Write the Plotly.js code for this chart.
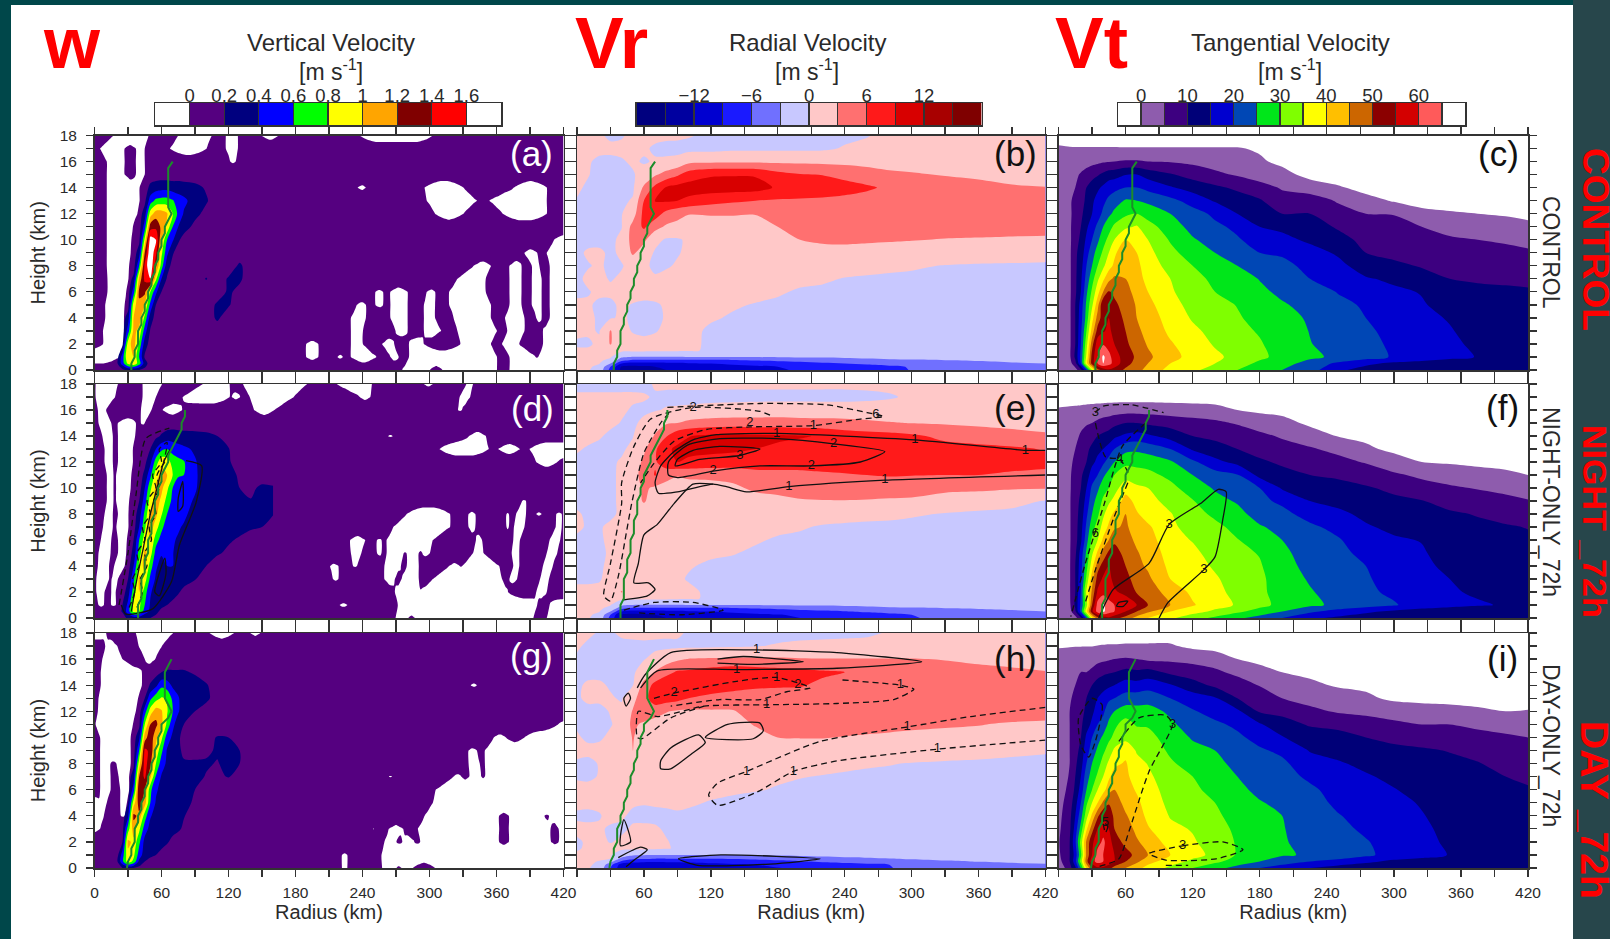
<!DOCTYPE html>
<html><head><meta charset="utf-8">
<script src="https://cdn.plot.ly/plotly-3.0.1.min.js"></script>
<style>html,body{margin:0;padding:0;background:#00474a;overflow:hidden}</style>
</head><body><div id="chart" style="width:1610px;height:939px"></div>
<script>
// ---------- axis ticks and colour bars ----------
const radiusLabelled=[0,60,120,180,240,300,360,420];
const radiusUnlabelled=[30,90,150,210,270,330,390];
const heightLabelled=[0,2,4,6,8,10,12,14,16,18];
const heightUnlabelled=[1,3,5,7,9,11,13,15,17];
const wColors=['#ffffff','#550080','#00007f','#0000ff','#00ff00','#ffff00','#ffa500','#800000','#ff0000','#ffffff'];
const wEdges=[-0.2,0,0.2,0.4,0.6,0.8,1,1.2,1.4,1.6,1.8];
const wBarTicks=[0,0.2,0.4,0.6,0.8,1,1.2,1.4,1.6];
const wBarLabels=['0','0.2','0.4','0.6','0.8','1','1.2','1.4','1.6'];
const vrColors=['#00007f','#0000a0','#0000d0','#1a1aff','#7070ff','#c8c8ff','#ffc8c8','#ff7070','#ff1a1a','#d80000','#a80000','#7f0000'];
const vrEdges=[-18,-15,-12,-9,-6,-3,0,3,6,9,12,15,18];
const vrBarTicks=[-12,-6,0,6,12];
const vrBarLabels=['\u221212','\u22126','0','6','12'];
const vtColors=['#ffffff','#8e5cad','#3d0080','#000078','#0000cf','#0047b5','#00e61a','#7fff00','#ffff00','#ffbf00','#cc6600','#8b0000','#d40000','#ff5a5a','#ffffff'];
const vtEdges=[-5,0,5,10,15,20,25,30,35,40,45,50,55,60,65,70];
const vtBarTicks=[0,10,20,30,40,50,60];
const vtBarLabels=['0','10','20','30','40','50','60'];

// ---------- w: radius intervals (km) where w<0, one list per height 0..18 km ----------
const wNegControl=[
[276,300,312,360,372,420],
[0,22,190,200,218,222,230,252,265,272,282,360,372,395,398,420],
[8,26,190,200,230,240,258,268,282,295,328,355,365,380,402,420],
[8,26,230,240,270,280,295,310,325,360,370,385,402,420],
[10,26,230,243,265,280,295,305,322,355,368,385,396,400,408,420],
[10,27,235,243,252,258,265,280,295,305,318,355,372,382,392,400,408,420],
[12,28,252,258,265,280,298,305,318,350,372,382,392,400,408,420],
[12,30,325,350,372,382,392,400,408,420],
[11,31,340,355,372,382,392,398,408,420],
[11,32,385,396,405,420],
[11,33,412,420],
[11,34],
[11,38,305,330,366,405],
[11,40,298,342,354,405],
[11,40,236,243,296,330,376,405],
[11,27,37,45],
[11,27,37,45,122,126],
[5,27,37,45,68,100,118,128],
[17,48,75,105,118,128,150,165,238,303]];
const wNegNight=[
[270,281,287,393,405,420],
[4,8,15,19,220,226,272,396,408,420],
[2,9,15,19,269,290,292,370,396,405],
[2,13,16,21,214,218,260,269,275,290,303,365,372,378,399,407],
[3,13,18,27,211,218,232,235,260,274,280,290,318,327,330,362,375,380,402,410],
[4,14,21,28,230,239,253,257,262,277,280,290,294,300,339,348,374,380,405,414],
[6,15,21,29,229,242,253,257,262,303,342,347,375,381,408,417],
[8,16,20,30,268,318,335,341,369,371,376,385,413,418],
[9,16,21,30,280,318,335,341,369,371,378,386,396,400,414,418],
[11,17,20,31,383,386],
[11,17,20,32],
[11,17,20,33],
[9,16,21,34,396,414],
[9,16,21,34,309,353,362,381,390,420],
[7,16,21,36,263,267,336,350],
[4,15,21,37,42,45],
[3,10,42,51,61,78,143,161,326,329],
[1,18,43,55,79,121,123,130,139,178,238,247,327,336],
[1,21,43,60,97,121,133,190,217,248,295,303,333,339]];
const wNegDay=[
[222,226,258,270,275,285,305,420],
[222,226,257,420],
[260,270,276,286,292,362,371,409,416,420],
[0,5,249,250,264,276,290,362,371,408,416,420],
[0,8,24,27,296,362,371,403,407,420],
[0,4,6,11,23,29,303,420],
[5,14,23,31,306,420],
[5,14,22,31,264,266,322,328,336,346,350,420],
[5,14,20,32,335,345,350,420],
[5,32,335,342,350,420],
[5,32,358,368,385,420],
[1,34,415,420],
[3,37],
[4,39],
[6,42,337,342],
[6,42],
[7,25,45,54],
[10,20,40,60],
[0,10,37,70,103,125,140,148]];

// ---------- w core (m/s) on a fine grid around the eyewall plume ----------
const wCoreX=[20,25,30,35,40,45,50,55,60,65,70,75,80,90,100,110,120,130,140,150,160];
const wCoreY=[0,0.5,1,2,3,4,5,6,7,8,9,10,11,12,13,14,15,16];
const wCoreControl=[
[.1,.15,.25,.25,.2,.15,.1],
[.15,.5,.85,.95,.7,.3,.1],
[.1,.5,1,1,.6,.17,.1],
[.1,.15,.9,1.1,.75,.3,.12,.1],
[.1,.1,.5,1.05,.95,.5,.18,.1],
[.1,.1,.3,1,1.1,.75,.3,.12,.1,.1,.1,.1,.1,.1,.1,.23,.1],
[.1,.1,.1,.9,1.15,1,.55,.2,.1,.1,.1,.1,.1,.1,.1,.23,.22,.1],
[.1,.1,.1,.5,1.25,1.25,.8,.45,.2,.1,.1,.1,.1,.1,.1,.1,.23,.15,.1],
[.1,.1,.1,.25,1.05,1.45,1.6,.85,.4,.18,.1,.1,.1,.1,.21,.1,.22,.23,.1],
[.1,.1,.1,.1,.6,1.45,1.8,1.25,.7,.28,.14,.1,.1,.1,.1,.1,.1,.23,.1],
[.1,.1,.1,.1,.3,1.2,1.8,1.45,.85,.45,.22,.12,.1],
[.1,.1,.1,.1,.15,.85,1.7,1.6,1,.6,.43,.23,.13,.1],
[.1,.1,.1,.1,.1,.5,1.3,1.35,1.15,.95,.6,.4,.28,.15,.1],
[.1,.1,.1,.1,.1,.3,.9,1.1,1.1,1.02,.8,.55,.38,.25,.15,.1],
[.1,.1,.1,.1,.1,.15,.5,.65,.68,.68,.62,.5,.45,.3,.22,.1],
[.1,.1,.1,.1,.1,.1,.25,.3,.33,.33,.3,.3,.28,.25,.18,.1],
[.1],[.1]];
const wCoreNight=[
[.1,.1,.25,.3,.3,.25,.2,.15,.1],
[.1,.22,.5,.85,.8,.5,.35,.25,.15,.1],
[.1,.2,.45,.85,.85,.6,.38,.3,.25,.2,.15,.1],
[.1,.1,.3,.7,1,.7,.42,.33,.3,.3,.28,.22,.15,.1],
[.1,.1,.2,.55,1.05,.9,.55,.37,.32,.4,.4,.3,.28,.21,.12,.1],
[.1,.1,.1,.4,.85,1.08,.7,.43,.33,.4,.4,.3,.28,.25,.2,.12,.1],
[.1,.1,.1,.25,.7,1.05,.9,.52,.42,.42,.41,.33,.3,.27,.25,.22,.17,.1],
[.1,.1,.1,.2,.6,.9,1.02,.68,.52,.45,.42,.38,.32,.28,.27,.25,.22,.18,.1],
[.1,.1,.1,.12,.4,.75,1.1,.9,.65,.5,.46,.42,.38,.3,.28,.27,.26,.25,.23,.2,.1],
[.1,.1,.1,.1,.3,.65,1.02,1.05,.82,.6,.5,.46,.44,.32,.29,.28,.27,.27,.25,.25,.21],
[.1,.1,.1,.1,.2,.5,.9,1.1,.95,.72,.55,.48,.46,.38,.3,.28,.27,.25,.21,.25,.25],
[.1,.1,.1,.1,.1,.4,.75,1.05,1.05,.85,.6,.5,.47,.42,.3,.28,.26,.2,.16,.24,.22],
[.1,.1,.1,.1,.1,.25,.55,.9,1.08,1,.8,.62,.6,.43,.3,.27,.25,.18,.1],
[.1,.1,.1,.1,.1,.15,.35,.7,.95,.9,.72,.66,.62,.42,.29,.26,.22,.12,.1],
[.1,.1,.1,.1,.1,.1,.2,.4,.55,.6,.52,.48,.44,.37,.27,.24,.21,.1],
[.1,.1,.1,.1,.1,.1,.1,.15,.22,.28,.3,.28,.27,.26,.24,.2,.12,.1],
[.1],[.1]];
const wCoreDay=[
[.1,.2,.25,.2,.15,.1],
[.15,.55,.9,.75,.35,.2,.12,.1],
[.1,.5,.95,.85,.5,.3,.25,.2,.15,.1],
[.1,.2,1.05,.95,.65,.33,.28,.27,.26,.22,.15,.1],
[.1,.12,.7,1.1,.85,.5,.33,.3,.28,.27,.26,.23,.17,.1],
[.1,.1,.35,1.25,1.15,.7,.42,.33,.3,.28,.27,.26,.21,.12,.1],
[.1,.1,.2,.9,1.3,1.1,.6,.38,.32,.3,.28,.27,.26,.17,.1],
[.1,.1,.1,.5,1.4,1.2,.65,.43,.34,.3,.29,.28,.26,.2,.12,.1],
[.1,.1,.1,.3,1.2,1.45,1.05,.58,.38,.34,.31,.29,.27,.25,.19,.17,.21,.12,.1],
[.1,.1,.1,.15,.9,1.5,1.25,.8,.5,.36,.32,.28,.23,.22,.22,.19,.25,.2,.1],
[.1,.1,.1,.1,.6,1.45,1.35,.95,.65,.38,.32,.25,.15,.15,.17,.22,.24,.2,.1],
[.1,.1,.1,.1,.35,1.1,1.35,1.05,.85,.5,.36,.23,.14,.1,.15,.21,.2,.12,.1],
[.1,.1,.1,.1,.15,.8,1.2,1.25,1.05,.75,.45,.3,.2,.1],
[.1,.1,.1,.1,.1,.5,.9,1.1,1.02,.82,.6,.42,.3,.2,.12,.1],
[.1,.1,.1,.1,.1,.2,.55,.72,.82,.78,.55,.42,.3,.27,.24,.12,.1],
[.1,.1,.1,.1,.1,.1,.22,.35,.55,.5,.36,.33,.3,.27,.22,.1],
[.1,.1,.1,.1,.1,.1,.1,.12,.2,.22,.22,.22,.22,.18,.1],
[.1]];

// ---------- radial velocity (m/s) ----------
const vrX=[0,10,20,30,40,50,60,70,80,90,100,120,140,160,180,200,220,240,260,280,300,330,360,390,420];
const vrY=[0,.25,.5,.75,1,1.5,2,3,4,5,6,7,8,9,10,11,12,13,14,15,16,17,18];
const vrControl=[
[.3,.2,-1,-7,-13,-13.5,-13,-12.5,-12,-11.5,-11,-10.5,-10,-9.5,-9.2,-8.8,-8.3,-7.8,-7.2,-6.6,-5.9,-5.2,-4.7,-4.2,-3.8],
[.3,.3,-.5,-6,-12.5,-13,-12.5,-12,-11.5,-11,-10.7,-10.2,-9.8,-9.5,-9,-8.5,-8,-7.5,-7,-6.5,-5.8,-5,-4.5,-4,-3.7],
[.3,.3,.1,-3,-9,-10,-10,-10,-9.8,-9.6,-9.3,-9,-8.5,-8,-7.5,-7,-6.3,-6,-5.5,-5,-4.5,-4,-3.6,-3.2,-3],
[.3,.3,.3,-.5,-5,-6.5,-6.5,-6.5,-6.5,-6.5,-6.5,-6.5,-6.3,-5.8,-5.4,-5,-4.8,-4.5,-4,-3.5,-3.3,-3,-2.8,-2.6,-2.3],
[.3,.3,.3,.2,-2.5,-3.1,-3.1,-3.1,-3.1,-3.1,-3,-3,-3,-2.9,-2.8,-2.7,-2.6,-2.4,-2.2,-2,-1.9,-1.8,-1.7,-1.6,-1.5],
[.2,.2,.5,.6,.6,.6,.6,.5,.5,.4,.3,-.3,-.6],
[-.2,-.2,.3,3.2,.5,.5,.6,.5,.5,.5,.4,-.3,-.6],
[.3,.2,-.1,3.2,.5,-.1,-.4,-.1,.3,.5,.5,-.3,-.5],
[.3,.3,-.2,-.2,.3,-.3,-.6,-.5,.2,.5,.5,.2,-.2,-.5],
[.2,.2,-.3,-.3,.3,-.1,-.5,-.3,.3,.5,.6,.5,.2,-.1,-.3,-.5],
[-.2,-.1,.3,.3,.5,.7,1,1,1,1,1,.8,.7,.5,.2,-.2,-.4,-.5],
[-.3,.3,.3,-.1,.2,.8,.8,.3,.8,.9,1,1,.9,.7,.5,.4,.3,-.1,-.3,-.5],
[-.3,-.1,.2,-.3,-.1,.5,.5,-.5,-.3,.3,.8,1,1.2,1.1,1.1,1,1,.9,.8,.6,.3,-.1,-.3,-.4,-.5],
[-.3,.2,.3,-.3,.3,3.5,1.5,-.3,-.5,-.2,.5,.8,1,1.2,1.5,2,2.3,2.3,2.2,2.1,1.9,1.7,1.6,1.5,1.3],
[-.3,-.4,-.5,-.5,.5,4.2,3.6,.8,-.3,-.3,.4,.6,.8,1.2,2,3,3.3,3.4,3.3,3.2,3.1,2.9,2.8,2.7,2.6],
[-.5,-.6,-.6,-.5,-.1,4,6.5,4,2.6,2.2,2,1.9,1.9,2.2,3,3.6,3.9,4,4,4,4,4,4,3.9,3.9],
[-.5,-.6,-.6,-.6,-.1,1.5,7,7.5,5,3.9,3.1,3.2,3.2,3.1,3.6,4,4.2,4.3,4.4],
[-.1,-.5,-.5,-.5,-.4,.2,6,9.2,9.4,9,8.4,7.2,6.5,6,5.7,5.6,5.5,5.3,5,4.8,4.7,4.7,4.7,4.7,4.6],
[.3,-.3,-.7,-.7,-.7,-.4,3.5,6.8,9.3,10,10.2,10.4,10.4,10.2,8.6,8,7.6,7,6.4,5.5,5,4.5,3.8,3.3,3.1],
[.3,.1,-.6,-.6,-.5,-.2,.8,2.6,4,5.5,7.5,8.7,8.8,8.7,7,6.2,5.9,5.2,4.4,3.6,3.3,2.8,2.5,2,1.7],
[.3,.2,-.4,-.5,-.2,.3,-.2,.2,.5,.8,2.2,2.4,2.5,2.5,2.5,2.4,2.3,2.2,2,1.8,1.6,1.4,1.2,1,.9],
[.5,.5,.5,.5,.5,.5,.3,-.3,-.7,-.8,-.8,-.8,-.5,-.5,-.5,-.5,-.4,.2,.5,.6],
[.5,.5,.3,-.4,-.2,.5,.5,.5,.5,.5,.2,-.5,-.7,-.7,-.7,-.7,-.7,-.5,-.1,.5]];
const vrNight=[
[.3,.2,-1,-7,-13,-13.5,-13,-12.5,-12,-11.5,-11,-10.5,-10,-9.6,-9.3,-9,-8.5,-8,-7.4,-6.8,-6.2,-5.4,-4.8,-4.3,-3.9],
[.3,.3,-.5,-6,-12.5,-13,-12.5,-12,-11.5,-11,-10.7,-10.2,-9.8,-9.5,-9.1,-8.7,-8.2,-7.6,-7.1,-6.6,-6,-5.1,-4.6,-4.1,-3.8],
[.3,.3,.1,-3,-9,-10,-10,-10,-9.8,-9.6,-9.3,-9,-8.5,-8,-7.5,-7,-6.5,-6.1,-5.6,-5.1,-4.6,-4.1,-3.7,-3.3,-3],
[.3,.3,.3,-.5,-5,-6.5,-6.5,-6.5,-6.5,-6.5,-6.5,-6.5,-6.3,-5.8,-5.4,-5,-4.8,-4.5,-4,-3.5,-3.3,-3,-2.8,-2.6,-2.3],
[.3,.3,.3,.1,-2.5,-3,-3.1,-3.1,-3.1,-3.1,-3,-3,-3,-2.9,-2.8,-2.7,-2.6,-2.4,-2.2,-2,-1.9,-1.8,-1.7,-1.6,-1.5],
[.3,.3,.3,.3,.6,.6,.6,.6,.5,.4,.3,-.3,-.6],
[.3,.3,.3,.5,3.2,.6,.6,.6,.5,.4,.3,-.3,-.6],
[-.2,-.2,-.1,.4,1,.5,.5,.5,.5,.2,-.1,-.4,-.5],
[-.3,-.3,-.2,.3,.5,.5,.5,.5,.5,.3,.1,-.2,-.5],
[-.3,-.3,-.3,.2,.5,.5,.5,.5,.5,.4,.4,.2,.1,-.3,-.5],
[-.3,-.3,-.2,.3,.5,.5,.5,.5,.5,.6,.6,.5,.4,.2,-.2,-.4,-.5],
[.3,-.2,-.1,.2,.5,.6,.8,.8,.8,.8,.8,.8,.7,.6,.4,.2,-.2,-.4,-.5],
[.2,-.3,-.4,-.2,.2,1,1.2,1,1,1,1,1,1,1.1,1.2,1.2,1,.9,.7,.5,.2,-.1,-.3,-.4,-.5],
[-.4,-.4,-.3,-.2,.2,1.5,3.3,1.5,1,1,1,1.1,1.5,2,2.4,2.8,2.9,2.9,2.8,2.6,2.5,1.2,.9,.5,-.1],
[-.5,-.5,-.4,-.2,.2,1.5,3.5,2.5,1.5,1.7,1.8,2,2.5,3.5,3.7,4,4.3,4.4,4.5,4.5,4.3,4,3.7,3.3,3.2],
[-.4,-.5,-.5,-.2,.2,2,4,6.2,4.5,3.2,3.6,3.7,3.9,5,5.2,5.3,5.6,5.8,6,6.2,6.1,6,6,5.6,5.2],
[-.4,-.5,-.5,-.3,.2,1.5,3.5,5.7,7.5,9,8.5,8,7.7,7.5,7.3,7.2,7.2,7.2,7.2,7.2,7.1,7,7,7,6.9],
[.2,-.2,-.5,-.5,-.3,.5,2.5,5.5,8.5,9.5,9.8,9.7,9.5,9,8.6,8.2,8,7.8,7.6,7.4,7.2,7,6.8,6.5,5.8],
[.5,.5,.2,-.4,-.5,-.1,1.5,3.2,5.8,8,8.9,9.5,9.7,9.5,9.4,9.2,8.8,7.7,7.3,7,6.5,5.3,4.6,3.9,3.4],
[.5,.5,.5,.4,-.1,-.4,.5,2,2.7,3,3.7,4.3,4.5,4.3,4.3,4.1,4,3.9,3.6,3.2,2.9,2.7,2.4,2.2,2],
[.5,.5,.5,.5,.3,-.2,-.4,-.2,.2,.3,.4,.7,1,1.2,1.3,1.3,1.2,1.2,1.1,1,1,1,.9,.8,.8],
[.3,.3,.3,.3,.3,.3,.2,-.2,-.6,-.6,-.6,-.6,-.7,-.7,-.7,-.7,-.7,-.7,-.5,-.2,.3,.5],
[-.5,-.5,-.5,-.5,-.5,-.5,-.5,.2,.5]];
const vrDay=[
[.3,.2,-1,-6,-11,-11.5,-11.5,-11,-10.5,-10.5,-10.5,-10,-9.8,-9.5,-9.1,-8.6,-8,-7.5,-6.9,-6.1,-5.5,-4.8,-4.3,-3.9,-3.5],
[.3,.3,-.5,-5,-10.5,-11,-11,-10.5,-10.2,-10,-10,-9.6,-9.3,-9,-8.5,-8,-7.4,-6.9,-6.5,-6,-5.2,-4.5,-4,-3.6,-3.3],
[.3,.3,-.1,-2,-6.5,-8,-8.5,-8.7,-8.7,-8.7,-8.5,-8.2,-8,-7.5,-6.8,-6.2,-5.6,-5.2,-4.8,-4.3,-3.8,-3.3,-2.9,-2.6,-2.4],
[.3,.3,.3,.1,-3.5,-5,-5.3,-5.6,-5.6,-5.6,-5.6,-5.6,-5.4,-5,-4.6,-4.2,-3.8,-3.4,-3.2,-2.9,-2.6,-2.2,-2,-1.8,-1.7],
[.3,.3,.3,.2,-1.5,-2.6,-2.8,-2.9,-2.9,-3,-3,-3,-3,-2.8,-2.6,-2.4,-2.2,-2,-1.9,-1.8,-1.6,-1.5],
[-.2,.3,.5,.5,.5,.5,.5,.4,.2,-.3,-.5],
[-.2,.2,.4,-.1,.3,.5,.5,.4,.1,-.3,-.5],
[.3,.3,.2,-.2,-.3,.2,.3,.2,-.2,-.4,-.5],
[-.2,-.3,-.1,.4,.2,-.3,-.4,-.4,-.4,-.2,-.3,-.5],
[.3,.3,.3,.3,.3,.2,.1,.2,.3,.3,.2,-.1,-.4,-.5],
[.5,.5,.5,.5,.5,.5,.5,.5,.5,.5,.5,.4,.3,.1,-.1,-.5],
[-.2,-.3,.1,.4,.6,.7,.7,.7,.7,.7,.7,.6,.5,.4,.2,.1,-.1,-.3,-.5],
[-.2,-.4,.1,.4,.6,.7,.7,.7,.7,.8,.8,.8,.8,.8,.8,.8,.7,.5,.3,.1,-.1,-.3,-.4,-.5],
[.4,.4,.4,.5,.8,3.2,.8,.8,.9,1,1,1,1,1.2,1.5,1.7,1.8,1.8,1.7,1.6,1.4,1.2,.9,.5,.2],
[.2,-.3,-.2,.3,.5,3.2,1.5,1,1,1,1,1,1.1,1.5,3,3.1,3.1,2.9,2.7,2.5,2.4,2.2,2.1,2,1.9],
[-.2,-.4,-.4,-.1,.5,3.8,2.2,1.5,1.3,1.3,1.3,1.3,1.4,3.3,3.8,3.9,4,4,3.9,3.8,3.5,3.3,3.1,2.7,2.4],
[-.2,-.4,-.4,.1,.5,3.2,6,4.5,3.2,2.6,2.6,2.7,2.8,4.3,4.4],
[-.2,.3,.3,.2,-.2,2,5,7.5,7.5,7,6,5,4.8,4.7],
[-.3,.3,.3,-.2,-.4,-.1,4,7,8.5,8.6,8.5,8,7,6.5,6.3,6.2,5.5,5,4.9,4.8,4.7,4.6,4.5,4.3,4],
[-.3,-.5,-.5,-.5,-.5,-.3,1,3.2,5,6.4,6.6,7.5,8.2,7.7,7.2,7,6.4,6,4.6,4.3,4.1,3.9,3.6,3.4,3.1],
[-.3,-.5,-.5,-.5,-.5,-.4,-.1,.6,1.6,2.5,3.1,3.3,3.4,3.4,3.4,3.2,3.1,3.1,3.1,3.1,3.1,2.9,2.6,2.3,2],
[.3,-.4,-.5,-.5,-.5,-.4,-.3,-.4,-.5,-.5,-.5,-.4,-.3,-.1,.2,.5,.7,.8],
[.5,.4,-.2,-.2,.3,.4,.4,.4,.4,.4,-.3,-.5,-.7,-.7,-.7,-.7,-.7,-.6,-.4,.2,.5]];

// ---------- tangential velocity (m/s) ----------
const vtX=[0,10,15,20,25,30,35,40,45,50,60,70,80,100,120,140,160,180,200,225,250,275,300,325,350,375,400,420];
const vtY=[0,.5,1,2,3,4,5,6,7,8,9,10,11,12,13,14,15,16,17,18];
const vtControl=[
[1,1,3,8,20,35,48,52,54,53,49,46,44,38,36,33,30,27,25,22,16,13,11,10.5,10.5,10.5,10.5,10.3],
[1,3,8,20,38,52,60,65,62,58,52,48,45,40,37,35,32,29,27,23,19,16,14,13,12,11,10.5,10.5],
[1,4,11,21,36,52,60,66,62,57,53,49,46,41.5,38.5,36,33.5,31,28.5,26,24,22,19.5,18,16.3,14.8,13.5,12.5],
[1,4,10,20,33,48,58,59.5,57.5,55,51,47.5,44.5,40.5,37.5,34.5,32,30.5,27.5,25.2,23,21,19.4,17.6,16,14,13,12.8],
[1,4,10,19,30,42,52,54.5,56,53.5,50,46,43.5,39,36,33.5,31.5,29.5,28,24.8,22.8,20.7,18.8,17,15.3,13.5,12.2,12],
[1,4,10,18,27,38,47,53,55,52.5,49,45,42.5,38,34.5,32.5,30.5,28.5,27,24.3,22,20,18.2,16,14.7,13,11.8,11.5],
[1,4,10,17,26,34,43,55,53,51,48,44.5,41.5,36.5,33.7,31.5,29.8,27.5,25.5,23.5,21,19.5,17.3,15.5,13,12.3,11.2,11],
[1,4,9,15,24,31,38,45,50.5,49,46.5,43.5,40,35.5,33,30,28.5,26,24,22,19.8,16.7,16,14.7,11.5,11,10.8,10.5],
[1,4,9,14,22,28,34,39,43.5,46,45,42,38.5,35,31.5,29,27,24.8,23,20,18.4,15.5,14,11.5,10,9.5,9.2,9],
[1,4,9,13,20,25,30,34,38,41,44,41,38,33,30,27.5,25,23,21,19,16.5,12.5,10.8,9.7,8.5,8,7.5,7],
[1,4,9,12,18,23,27,31,35,39,44,40,36.5,31.5,27.5,25,23,20,19.5,17,14.3,10,9,8.3,7,6.6,6,5.5],
[1,4,8,11,16,20,24,28,31.5,35,40,37,35,29.5,25.5,23,20.5,18,16.5,14,11.5,8.8,7.6,7,5.6,5,4.5,4],
[1,4,8,10,14,18,21,25,28,31,34,35.5,32,27.3,23.5,21,19,15,13.8,12,9.5,7.7,6.5,5,3.5,3,2,1],
[1,4,7,9,12,15,18,21,24,26,29,30,28,25,22,19,15,13,10,10,7,5,4.8,1.5,.5,0,-.5,-1],
[1,4.5,6,8,11,14,17,19,21,23,25.5,25,24,21.5,18,14.5,12.5,10.5,7,7.5,4.5,2,-.5,-2],
[1,3,5,7,10,12,14,16,18,18.5,20,20,18.5,15.5,13,11,9,7,4.5,2.5,.7,-2,-3],
[1,2,4,5.5,7,8.5,9.5,11,12.5,13,14.8,15,13,10.5,8,6,4.5,2.5,1.5,-1.5,-3],
[1,1.5,2,2.5,3,3.5,4,4.5,4.8,5,5.5,5.5,5,4.7,4,3,2,.6,-1,-3],
[1,.5,.4,.4,.4,.4,.4,.4,.4,.4,.3,.3,.3,.3,.3,.3,.3,-.5,-1.5,-3],
[-3]];
const vtNight=[
[1,1,3,9,22,38,48,52,54,52,48,43,40,36,32,29,26,23,20,16,14,12,11,10.5,10.5,10.5,10.5,10.3],
[1,3,9,22,38,54,62,66,62,60,55,50,46,40,37,34,31,28,25,21,18,16,14,13,12,11,10.5,10.5],
[1,4,11,21,33,50,62,66,62,60,57.5,55,50,45,40.5,37,34.5,31.5,28.5,26,24,22,20.5,17.5,16.5,15.5,14.6,14],
[1,4.5,10,20,36,46,56,58,57,55.5,54,49.5,47.7,43,39,36.4,33.5,31,28,25.4,23,21,19,17,15.5,14.4,13.8,13.2],
[1,4.5,10,19,31,43,52,56,56,54,52,47.5,46,40,38,35.7,32.5,31,27.5,24.5,22.5,20.5,18.2,16.5,15,13.8,13.2,12.6],
[1,4.5,10,18,28,38,48,52,55,53,50,46.3,44.3,38.8,37.3,34.3,32,30.5,26.5,23.8,22,20,17.4,16,14,13.2,12.7,12],
[1,4.5,9,17,26,34,41,47,51,52,48.5,45.5,43,38,36.2,33,31.3,29.7,26,23,21.5,18.5,16.6,15.5,13,12.5,12,11.4],
[1,4.5,8,14,23,31,35,41,45,49,47,44,42,37,34.7,32,30.2,28,25,22,20.5,17,15.6,14.8,12.2,11.8,11.4,10.8],
[1,4.5,8,13,21,28,32,37,41,44,46,42,40.8,36,33.2,31.3,28.5,25.5,23.5,21,18.5,15.5,14,13.5,11.5,11,10.5,9.8],
[1,4.5,8,12,19,25,29,34,38,41,45,40.5,38,35.3,31.9,29,26.5,23,21.5,18,16,14,12.5,12,10.7,9.7,8.3,7.5],
[1,4.5,8,11,17,23,27,31,34,36.5,42,38.5,36.5,33.5,30.3,26.5,24.5,21.2,19,15,13.7,12,11,10.2,8.2,7.2,6.3,5.3],
[1,4.5,7,10,15,21,24,28,30,33,38,36,35,31.5,27.5,24.5,22,20,14.5,12.5,11.5,10.5,9,7,5.7,4.7,3.7,2.7],
[1,4.5,6.5,9,13,17,20,24,27,30,33,32,31.5,28.7,25,22,20.3,13.5,12,10,9.3,8,5.8,4,2.7,1.7,1,0],
[1,4,6,8,10,14,16,19,22,25,28.7,28.5,28,25.7,21,16.5,13.5,11,9,8,6.5,4.6,2,0,-.5,-1,-1.5,-2],
[1,3.5,5,7,9,11,14,15,17,20,23.5,24,23,20,14.3,11.7,10,7.7,6.7,5.5,3.7,.8,-1,-2],
[1,3,4,5.5,7,8.5,10,11,12,14,16,17,16,13,10,9,8.4,6,4.5,2.5,-.2,-1,-2],
[1,2,3,4,4.5,5,6,7,7.5,8.5,10,10,9,8,7,6,4.5,3,1.7,-1,-2],
[.5,.8,1,1.2,1.5,1.7,2,2.2,2.5,2.8,3,3,3,2.5,2,1.5,0,-1,-1.5,-2],
[-2],[-2]];
const vtDay=[
[1,8,14,25,40,50,54,54,52,48,45,42,38,34,30,27,23,20,18,15,13,12,11,10.5,10.5,10.5,10.5,10.3],
[3,10,18,32,48,58,62,60,58,55,50,46,42,37,34,31,28,25,22,20,18,16,14,13,12,12,12,11],
[4,10,17,29,46,55,62,60,57,55,52,48.5,45,40,36.3,34,29.5,28,25.5,24.5,24,21,18,16.7,14.8,14,14,13],
[4.5,10,19,32,46,54,58,61,57.5,52.5,48.5,45.5,43.5,37.7,35.5,33,29.5,27.5,25.3,24,23,20.4,17.7,16,14.4,13.7,13.3,12.6],
[4,9,17,27,39,48,55,58,55,50,47,44,40.5,36,34.7,32,29,27,25.2,23.5,21.5,19,17.3,15.7,14,13.3,13,12],
[3.5,8.5,15,23,33,41,49,54,53,49,45.5,42.5,38.8,34.7,33.5,31,28,26,25,23,20.3,18.2,16.7,15.2,13.7,13,12.6,11.5],
[3,7.5,13,20,29,35,40,46,49.5,47.5,43.5,41,38,33.7,32.3,30,27.5,25.3,24,22,19,17.2,16,14.7,13,12.5,12,11],
[2,6.5,11,17,25,30,35,38,43,45,42,39.5,37,33,31,28.5,26,24,23,21,18,16.5,15.3,13,12.5,12,11.5,10.5],
[1.5,5.5,10,15,23,27,31,35,39,42,41,38,36,32,30,27,25,23,22,19,16.5,15.7,13.5,12.3,11.8,11.3,10,9],
[1.5,5,9,13,20,25,28,32,36,39,40.5,36.5,34.8,30.7,28,26,24,22,21,17,15.7,13.5,12.2,11.5,11,10.3,8.3,7.3],
[2,5,8,11.5,18,22,26,29,32,36,38.5,34.5,33,29.2,26.5,25,23,20.7,19,14.7,13,11.5,11,10.6,9.8,8.3,7,6.2],
[2.5,5,7.5,10,16,20,23,26,29,31,33.5,32.5,31.5,28,24.5,23,21,18.3,15.3,12.5,11.7,10,9,8,7.4,6.6,5.7,5],
[2.5,5,7,9,13,16,20,22,26,29,32,29.5,29.5,26,22.5,21,19,15.5,12,9.5,8.7,7,5.8,5,5,4,3.3,2.7],
[2,5,6.5,8.5,11,14,17,19,23,25,27.7,27,27,24,20.5,18,16,9.5,8.7,6,4.5,4,3.3,2.5,1.7,1,0,.3],
[1.5,4.5,6,8,10,11,15,17,19,20,22,22.5,23,20,17.5,15.5,10,7,5,3.5,2.5,1,-1,-1.5,-1.5,-2],
[1,3.5,5,7,9,10,12,13,14,15,17.5,17,18,15.5,12,9,7,4.8,2.5,1,-.5,-1,-2],
[1,2,3.5,5,5,6,8,9,9.5,10,11.5,11,12,9,7.5,5.8,4,2,0,-1,-2],
[.5,1,1.5,2,2.5,3,3.5,4,4.5,5,5.5,5,4,4,3.5,3,0,-1.5,-2],
[-.1,-.1,-.1,-.1,-.1,-.1,.1,.2,.3,.3,.5,.5,.5,.5,-1,-2],
[-2]];

// ---------- radius of maximum wind (green), one radius per half kilometre of height ----------
const rmwHeight=[0,.5,1,1.5,2,2.5,3,3.5,4,4.5,5,5.5,6,6.5,7,7.5,8,8.5,9,9.5,10,10.5,11,11.5,12,12.5,13,13.5,14,14.5,15,15.5,16];
const rmwControl=[33,33,36,36,39,39,39,42,42,45,45,48,48,51,51,54,54,57,57,60,60,63,63,66,69,66,66,66,66,66,66,66,70];
const rmwNight=[39,39,39,42,42,42,42,45,45,45,48,48,48,51,51,51,54,54,54,57,57,60,60,63,66,66,69,72,75,78,78,81,81];
const rmwDay=[29,30,33,33,36,36,36,39,39,42,42,45,45,48,48,51,51,54,54,57,57,60,60,66,69,66,63,63,63,63,63,66,69];

// ---------- difference contours: [dashed?, radii, heights] ----------
const diffD=[
[0,[82,96,91,76,69,52,28,24],[12.1,11.7,8.9,5.6,2.8,.7,.3,1]],
[0,[75,79,79,75,75],[9.2,10.5,8.6,8.2,9.2]],
[0,[54,63,64,58,54],[2,4.6,3.4,1.7,2]],
[1,[22,30,37,46,67],[1,5,9.4,13.8,14.6]],
[1,[31,36,34,40,38,45,43,50,47,55,52,60,58,65,62],[.8,2,3,4,5,6,7,8,9,10,11,12,13,13.5,12]],
[1,[38,43,41,47,45,51,49,55,53,58,56,63],[.8,2,3,4,5,6,7,8,9,10,11,12]],
[0,[33,38,44,50,56,62,68],[.5,3,5.5,8,10,12,13]]];
const diffE=[
[0,[420,276,190,152,134,122,90,73,70,75,87,104,125,179,303,402,420],[11,10.6,10.1,9.7,10.1,10.3,9.7,9.6,10.4,11.7,12.8,13.7,14.1,14.2,13.7,12.9,12.9]],
[0,[276,230,179,128,99,82,82,90,122,164,210,254,276],[12.8,13.4,13.8,13.8,13.3,12,11,10.8,11.3,11.7,11.7,12,12.8]],
[0,[164,128,104,90,88,110,146,164],[13,13.2,12.9,12.2,11.7,12.2,12.5,13]],
[0,[122,104,87,72,60,55,51,64,70,63,42],[10.3,10.3,8.8,7.2,6.4,4.2,2.7,2.7,2.2,1.7,1.4]],
[1,[81,164,224,260,275,254,212,155,116,87,69,57],[16.2,16.5,16.4,15.8,15.5,15.3,14.8,14.7,14.5,13.6,11.9,10.4]],
[1,[173,164,104,66,51,40,40,30,24,30,37,49,60,75,84],[15.6,15.9,16.2,15.3,13.2,10.4,8.8,4.2,1.7,1.3,3.2,8.8,12.7,15,15.9]],
[1,[42,69,104,131,93,54],[.6,1.2,1.2,.6,.25,.4]]];
const diffF=[
[0,[90,98,130,140,147,150,143,127,99,81,49,36],[0,1.2,3.7,4.7,7.6,9.7,9.9,8.8,7.2,4.2,2.2,0]],
[1,[33,40,65,94],[15.8,16.3,16.4,15.8]],
[1,[33,42,55,64],[15,12.4,12.2,10.9]],
[1,[78,57,41,24,11],[15,13.2,8.8,4.2,.1]],
[1,[62,49,33,24],[10.4,7.6,3.7,1.2]],
[0,[54,62,58,52,54],[1.2,1.3,.9,.9,1.2]]];
const diffH=[
[0,[54,61,84,161,233,309,233,143,72,57],[13.8,14.8,16.5,16.7,16.5,15.8,15.3,15.2,15.1,13.8]],
[0,[126,149,203,158,126],[16,16.2,15.8,15.6,15.7]],
[1,[238,290,302,284,233,170,114,72,55,54,58,84,114],[14.4,14,13.7,12.9,12.6,12.5,12.4,11.6,12,10,9.9,11.5,12.4]],
[1,[69,87,143,179,209,188,164,128,84],[13,13.4,14.3,14.6,13.8,13.5,12.9,12.9,12.4]],
[1,[420,353,296,218,152,126,118,126,161,194,233,323,420],[12.3,11.6,10.8,9.7,7.4,6.5,5.6,4.8,5.8,7.4,8.2,9.1,9.8]],
[0,[75,84,102,115,109,84,75,75],[7.6,7.6,8.7,9.6,10.2,9.2,8.2,7.6]],
[0,[115,135,164,167,158,115],[10,11,11.1,10.5,9.9,10]],
[0,[91,129,218,173,108,91],[.7,1,.7,.3,.2,.7]],
[0,[37,57,63,51,44],[.8,1.6,1.4,.6,.1]],
[0,[42,48,39,39,42],[3.7,2,1.7,2.5,3.7]],
[0,[42,46,48,44,42],[13,13.4,13,12.4,13]]];
const diffI=[
[1,[54,72,96,102,81,63,54,36],[9.7,11.5,11.7,11,7.4,2.8,.7,.1]],
[1,[30,39,33,27,20,18,30],[13,12.5,9.7,8.5,9.4,11.5,13]],
[1,[81,111,147,165,141,96,81],[1.1,1.7,2,1.4,.7,.6,1.1]],
[1,[96,116],[.2,.2]],
[1,[40,44,42,40],[3.5,3.2,2.7,3.5]]];
// contour labels: radius, height, label
const labelsE=[[179,14.2,'1'],[303,13.7,'1'],[402,12.9,'1'],[190,10.1,'1'],[276,10.6,'1'],[230,13.4,'2'],[210,11.7,'2'],[122,11.3,'2'],[146,12.5,'3'],[104,16.2,'2'],[155,15,'2'],[212,14.8,'1'],[268,15.6,'6']];
const labelsF=[[99,7.2,'3'],[130,3.7,'3'],[33,15.8,'3'],[55,12.2,'4'],[33,6.5,'6']];
const labelsH=[[161,16.7,'1'],[143,15.2,'1'],[296,10.8,'1'],[323,9.1,'1'],[152,7.4,'1'],[194,7.4,'1'],[170,12.5,'1'],[290,14,'1'],[179,14.6,'1'],[198,14,'2'],[87,13.4,'2']];
const labelsI=[[102,11,'3'],[111,1.7,'3'],[42,3.5,'5']];

// ---------- helpers ----------
const FONT='Liberation Sans, Arial, sans-serif', INK='#2a2a2a';
const scale=c=>c.map((col,i)=>[i/(c.length-1),col]);
const fill=(rows,n)=>rows.map(r=>{const o=r.slice();while(o.length<n)o.push(o[o.length-1]);return o;});
const maskX=[];for(let r=0;r<=420;r+=2)maskX.push(r);
const maskY=[...Array(19).keys()];
// signed distance (km) to the nearest edge of the w<0 intervals read for that height
const maskZ=iv=>iv.map(a=>maskX.map(x=>{let d=14,inside=false;
  for(let i=0;i<a.length;i+=2){if(x>=a[i]&&x<=a[i+1])inside=true;
    if(a[i]>0)d=Math.min(d,Math.abs(x-a[i]));if(a[i+1]<420)d=Math.min(d,Math.abs(x-a[i+1]));}
  return inside?-Math.max(d,.5):Math.max(d,.5);}));
const colX=[[94.5,563.5],[577,1045.5],[1058.5,1528]];
const rowY=[[135.5,370],[384,618],[633,868]];
const W=1610,H=939;
const traces=[],layout={width:W,height:H,margin:{l:0,r:0,t:0,b:0},paper_bgcolor:'#00474a',plot_bgcolor:'#ffffff',showlegend:false,
  font:{family:FONT,color:INK},annotations:[],
  shapes:[
   {type:'rect',xref:'paper',yref:'paper',x0:1573/W,x1:1,y0:0,y1:1,fillcolor:'#27464b',line:{width:0},layer:'below'},
   {type:'rect',xref:'paper',yref:'paper',x0:11/W,x1:1573/W,y0:0,y1:1-5/H,fillcolor:'#ffffff',line:{width:0},layer:'below'}]};
function contour(ax,x,y,z,start,end,size,colors){
  traces.push({type:'contour',xaxis:'x'+ax,yaxis:'y'+ax,x,y,z,autocontour:false,contours:{coloring:'fill',start,end,size,showlines:false},
    line:{width:0,smoothing:0.85},colorscale:scale(colors),showscale:false,hoverinfo:'skip'});
}
function line(ax,r,h,opt){
  traces.push({type:'scatter',mode:'lines',xaxis:'x'+ax,yaxis:'y'+ax,x:r,y:h,hoverinfo:'skip',cliponaxis:true,line:opt});
}
function overlay(ax,list,labels){
  list.forEach(l=>line(ax,l[1],l[2],{color:'#111',width:1.3,dash:l[0]?'6px,4px':'solid',shape:'spline',smoothing:.6}));
  if(labels)traces.push({type:'scatter',mode:'text',xaxis:'x'+ax,yaxis:'y'+ax,x:labels.map(l=>l[0]),y:labels.map(l=>l[1]),text:labels.map(l=>l[2]),
    textfont:{size:13,color:'#111',family:FONT},textposition:'middle center',hoverinfo:'skip'});
}
function axes(i,c,r){
  const common={showgrid:false,zeroline:false,showline:true,mirror:'allticks',linecolor:'#333',linewidth:1.5,ticks:'outside',ticklen:7,tickwidth:1.3,tickcolor:'#333',tickfont:{size:15.5,color:INK,family:FONT},tickmode:'array'};
  const mt=v=>({tickmode:'array',tickvals:v,ticks:'outside',ticklen:7,tickwidth:1.3,tickcolor:'#333',showgrid:false});
  const s=i===1?'':i;
  const xLab=c===0?radiusLabelled:radiusLabelled.slice(1), xMin=c===0?radiusUnlabelled:[0].concat(radiusUnlabelled);
  layout['xaxis'+s]=Object.assign({},common,{domain:[colX[c][0]/W,colX[c][1]/W],anchor:'y'+s,range:[0,420],tickvals:xLab,ticktext:xLab.map(String),minor:mt(xMin),showticklabels:r===2,ticklabelstandoff:3,
    title:r===2?{text:'Radius (km)',font:{size:20,color:INK,family:FONT},standoff:4}:undefined});
  layout['yaxis'+s]=Object.assign({},common,{domain:[1-rowY[r][1]/H,1-rowY[r][0]/H],anchor:'x'+s,range:[0,18],tickvals:heightLabelled,ticktext:heightLabelled.map(String),minor:mt(heightUnlabelled),showticklabels:c===0,ticklabelstandoff:6,
    title:c===0?{text:'Height (km)',font:{size:20,color:INK,family:FONT},standoff:8}:undefined});
}
function note(xp,yp,text,size,color,extra){
  layout.annotations.push(Object.assign({xref:'paper',yref:'paper',x:xp/W,y:1-yp/H,text,showarrow:false,xanchor:'center',yanchor:'middle',font:{size,color,family:FONT}},extra||{}));
}
function bar(i,x0,x1,edges,tickv,labels,colors){
  const s='x'+i,n=colors.length;
  traces.push({type:'heatmap',xaxis:s,yaxis:'y'+i,x:edges,y:[0,1],z:[colors.map((_,k)=>k)],zmin:0,zmax:n-1,colorscale:scale(colors),showscale:false,hoverinfo:'skip'});
  layout['xaxis'+i]={domain:[x0/W,x1/W],anchor:'y'+i,side:'top',range:[edges[0],edges[edges.length-1]],showgrid:false,zeroline:false,showline:true,mirror:true,linecolor:'#333',linewidth:1.5,
    ticks:'inside',ticklen:22,tickwidth:1.3,tickcolor:'#333',tickmode:'array',tickvals:tickv,ticktext:labels,ticklabelstandoff:-8,tickfont:{size:18.5,color:INK,family:FONT},tickangle:0,
    minor:{tickmode:'array',tickvals:edges.slice(1,-1).filter(e=>!tickv.includes(e)),ticks:'inside',ticklen:22,tickwidth:1.3,tickcolor:'#333',showgrid:false}};
  layout['yaxis'+i]={domain:[1-125/H,1-103/H],anchor:'x'+i,range:[0,1],showgrid:false,zeroline:false,showline:true,mirror:true,linecolor:'#333',linewidth:1.5,ticks:'',showticklabels:false};
}

// ---------- panels ----------
const wBelow=['rgba(255,255,255,0)','#00007f','#0000ff','#00ff00','#ffff00','#ffa500','#800000','#ff0000','#ffffff'];
[[wNegControl,wCoreControl,0],[wNegNight,wCoreNight,1],[wNegDay,wCoreDay,2]].forEach(p=>{
  const r=p[2],ax=1+r*3,a=ax===1?'':ax;
  axes(ax,0,r);
  contour(a,maskX,maskY,maskZ(p[0]),0,0,1,['#ffffff','#550080']);
  contour(a,wCoreX,wCoreY,fill(p[1],wCoreX.length),.2,1.6,.2,wBelow);
});
[vrControl,vrNight,vrDay].forEach((z,r)=>{const ax=2+r*3;axes(ax,1,r);contour(ax,vrX,vrY,fill(z,vrX.length),-15,15,3,vrColors);});
[vtControl,vtNight,vtDay].forEach((z,r)=>{const ax=3+r*3;axes(ax,2,r);contour(ax,vtX,vtY,fill(z,vtX.length),0,65,5,vtColors);});
overlay(4,diffD);overlay(5,diffE,labelsE);overlay(6,diffF,labelsF);overlay(8,diffH,labelsH);overlay(9,diffI,labelsI);
[rmwControl,rmwNight,rmwDay].forEach((rm,r)=>{for(let c=0;c<3;c++){const ax=1+r*3+c;
  line(ax===1?'':ax,rm,rmwHeight,{color:'#1c8c2a',width:2});}});

bar(10,155,501,wEdges,wBarTicks,wBarLabels,wColors);
bar(11,636.6,981.6,vrEdges,vrBarTicks,vrBarLabels,vrColors);
bar(12,1118,1465,vtEdges,vtBarTicks,vtBarLabels,vtColors);

// ---------- text ----------
[[331,'Vertical Velocity'],[807,'Radial Velocity'],[1290,'Tangential Velocity']].forEach(t=>{
  note(t[0],43,t[1],24,INK);note(t[0],70,'[m s<sup>-1</sup>]',23,INK);});
note(72,43,'<b>w</b>',72,'#ff0000');note(611,43,'<b>Vr</b>',73,'#ff0000');note(1091,43,'<b>Vt</b>',73,'#ff0000');
[[531,153,'(a)','#fff'],[1015,153,'(b)','#111'],[1498,153,'(c)','#111'],[532,408,'(d)','#fff'],[1015,407,'(e)','#111'],[1502,407,'(f)','#111'],[531,655,'(g)','#fff'],[1015,658,'(h)','#111'],[1502,658,'(i)','#111']]
 .forEach(t=>note(t[0],t[1],t[2],35,t[3]));
note(1551,252,'CONTROL',23,INK,{textangle:90});
note(1551,502,'NIGHT-ONLY_72h',23,INK,{textangle:90});
note(1551,745,'DAY-ONLY_72h',23,INK,{textangle:90});
note(1595,239,'<b>CONTROL</b>',37,'#ff0000',{textangle:90});
note(1595,521,'<b>NIGHT _72h</b>',34,'#ff0000',{textangle:90});
note(1595,810,'<b>DAY _72h</b>',39,'#ff0000',{textangle:90});

Plotly.newPlot('chart',traces,layout,{displayModeBar:false,staticPlot:true});
</script></body></html>
